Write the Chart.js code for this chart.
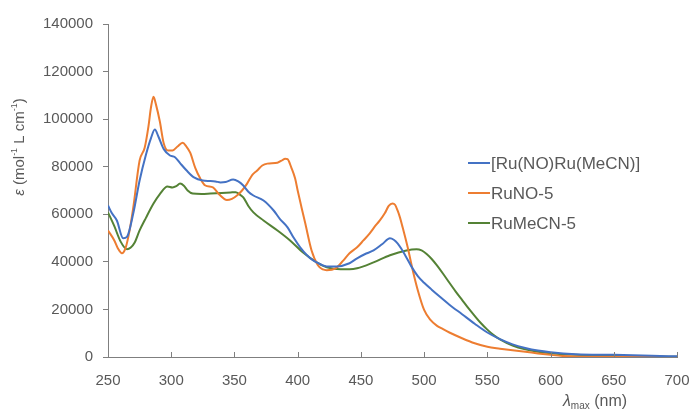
<!DOCTYPE html>
<html>
<head>
<meta charset="utf-8">
<script src="https://cdn.jsdelivr.net/npm/chart.js@4"></script>
<style>
  html, body { margin: 0; padding: 0; background: #ffffff; }
  canvas { display: block; }
</style>
</head>
<body>
<canvas id="c" width="691" height="410"></canvas>
<script>
// ---- data ----
const seriesNames = ["[Ru(NO)Ru(MeCN)]", "RuNO-5", "RuMeCN-5"];

const blueX = [250,253,257,262,265,270,275,280,284,287,290,294,299,303,307,312,318,325,331,335,339,343,349,353,357,361,365,373,381,386,392,397,402,407,412,418,423,431,441,447,453,460,467,473,476,479,482,485,490,495,500,506,513,520,530,540,550,560,570,580,590,600,620,650,680,700];
const blueY = [63700,60500,57400,49900,50500,60400,74200,85000,92000,95600,92500,87500,84700,84000,81500,78500,75500,74200,74000,73800,73400,73600,74600,73800,72100,69500,67900,65800,61600,58000,54500,50000,46100,43000,40700,39000,38100,38100,39400,41500,43200,44800,47500,49900,49300,47800,45500,42800,38000,34000,31200,28300,25100,22000,18000,14000,10300,7500,5300,3800,2700,2000,1200,900,500,300];

const orangeX = [250,255,258,261,264,267,270,275,279,282,284,286,288,291,294,297.5,301,305,309,312,315,319,323,327,333,338,344,348,352,356,360,364,368,372,376,384,388,390,392,395,398,400,403,406,411,416,420,423,430,436,441,447,452,457,462,465,469,472,475,477,479,481,483,487,491,495,500,505,510,515,520,530,540,550,560,570,580,590,600,610,630,700];
const orangeY = [53200,49000,45500,43600,46000,53000,62900,82600,88000,97000,105000,109400,106000,99000,90000,86800,86800,88500,90100,88500,85900,79500,75000,72100,71300,68300,66000,66500,67900,70000,72900,76500,78400,80500,81300,81700,82800,83400,83200,79600,75000,70000,63000,56200,44800,38600,36800,36500,37300,40500,43600,46100,49000,52000,55500,57400,60500,63500,64500,64000,61600,58500,54500,46100,36500,28100,19800,15600,13200,11700,10300,7900,5800,4300,3500,2800,2200,1500,900,400,100,0];

const greenX = [250,255,260,265,268,271,275,280,286,291,297,301,304,307,310,313,317,324,331,340,347,351,354,357,361,365,373,384,394,404,415,423,434,441,447,460,473,486,494,498,502,506,510,515,520,525,530,535,540,545,550,555,560,570,580,590,600,620,650,680,700];
const greenY = [60800,55000,48500,45300,46000,48000,53200,58500,64500,68500,71700,71300,71800,72900,72000,70000,68700,68500,68700,69000,69200,69300,68400,67100,63500,60800,57400,53200,49000,44000,39800,37700,36900,36900,37300,39800,42800,44800,45300,44800,43300,41200,38600,35000,31200,27500,24000,20500,17300,14200,11500,9200,7400,4800,3200,2200,1600,900,450,200,100];

const xTicks = [250,300,350,400,450,500,550,600,650,700];
const yTicks = [0,20000,40000,60000,80000,100000,120000,140000];
// --------------------------------------

const colors = ["#4472C4", "#ED7D31", "#548235"];
const FONT = "'Liberation Sans', Arial, sans-serif";
const TXT = "#595959";
const AXIS = "#7f7f7f";

function pts(xs, ys) { return xs.map((x, i) => ({ x: x, y: ys[i] })); }

const decorPlugin = {
  id: 'decor',
  afterDraw(chart) {
    const ctx = chart.ctx;
    const xs = chart.scales.x, ys = chart.scales.y;
    const bottom = ys.getPixelForValue(0);
    ctx.save();
    // inward x ticks
    ctx.strokeStyle = AXIS;
    ctx.lineWidth = 1;
    xTicks.forEach(v => {
      const px = Math.round(xs.getPixelForValue(v)) + 0.5;
      ctx.beginPath();
      ctx.moveTo(px, bottom);
      ctx.lineTo(px, bottom - 5);
      ctx.stroke();
    });
    // legend
    ctx.textBaseline = 'middle';
    ctx.textAlign = 'left';
    ctx.font = "17px " + FONT;
    const lx = 468, ly0 = 163, dy = 30;
    chart.data.datasets.forEach((ds, i) => {
      const y = ly0 + i * dy;
      ctx.strokeStyle = ds.borderColor;
      ctx.lineWidth = 2;
      ctx.beginPath();
      ctx.moveTo(lx, y);
      ctx.lineTo(lx + 22, y);
      ctx.stroke();
      ctx.fillStyle = TXT;
      ctx.fillText(ds.label, lx + 23, y + 1);
    });
    // y title (rotated)
    ctx.save();
    ctx.translate(20, 147);
    ctx.rotate(-Math.PI / 2);
    const partsY = [
      { t: "ε", f: "italic 15px " + FONT, dy: 0 },
      { t: " (mol", f: "15px " + FONT, dy: 0 },
      { t: "-1", f: "9px " + FONT, dy: -5 },
      { t: " L cm", f: "15px " + FONT, dy: 0 },
      { t: "-1", f: "9px " + FONT, dy: -5 },
      { t: ")", f: "15px " + FONT, dy: 0 }
    ];
    drawParts(ctx, partsY, 0, 0);
    ctx.restore();
    // x title
    const partsX = [
      { t: "λ", f: "italic 16px " + FONT, dy: 0 },
      { t: "max", f: "10px " + FONT, dy: 4 },
      { t: " (nm)", f: "16px " + FONT, dy: 0 }
    ];
    drawParts(ctx, partsX, 595, 402);
    ctx.restore();
  }
};

function drawParts(ctx, parts, cx, cy) {
  let total = 0;
  parts.forEach(p => { ctx.font = p.f; total += ctx.measureText(p.t).width; });
  let x = cx - total / 2;
  ctx.fillStyle = TXT;
  ctx.textAlign = 'left';
  ctx.textBaseline = 'middle';
  parts.forEach(p => {
    ctx.font = p.f;
    ctx.fillText(p.t, x, cy + p.dy);
    x += ctx.measureText(p.t).width;
  });
}

new Chart(document.getElementById('c'), {
  type: 'line',
  data: {
    datasets: [
      { label: seriesNames[0], data: pts(blueX, blueY), borderColor: colors[0] },
      { label: seriesNames[1], data: pts(orangeX, orangeY), borderColor: colors[1] },
      { label: seriesNames[2], data: pts(greenX, greenY), borderColor: colors[2] }
    ].map(d => Object.assign(d, {
      borderWidth: 2, pointRadius: 0, fill: false,
      cubicInterpolationMode: 'monotone', backgroundColor: d.borderColor
    }))
  },
  options: {
    responsive: false,
    animation: false,
    devicePixelRatio: 1,
    layout: { padding: { left: 0, top: 24, right: 14, bottom: 0 } },
    plugins: { legend: { display: false }, tooltip: { enabled: false } },
    scales: {
      x: {
        type: 'linear', min: 250, max: 700,
        afterBuildTicks(s) { s.ticks = xTicks.map(v => ({ value: v })); },
        afterFit(s) { s.height = 53; s.paddingLeft = 0; s.paddingRight = 0; },
        grid: { display: false, drawTicks: false },
        border: { display: true, color: AXIS, width: 1 },
        ticks: { color: TXT, font: { family: FONT, size: 15 }, padding: 15, maxRotation: 0,
                 callback: v => String(v) }
      },
      y: {
        min: 0, max: 140000,
        afterBuildTicks(s) { s.ticks = yTicks.map(v => ({ value: v })); },
        afterFit(s) { s.width = 108; s.paddingTop = 0; s.paddingBottom = 0; },
        grid: { display: true, drawOnChartArea: false, drawTicks: true, tickLength: 5, color: AXIS },
        border: { display: true, color: AXIS, width: 1 },
        ticks: { color: TXT, font: { family: FONT, size: 15 }, padding: 10,
                 callback: v => String(v) }
      }
    }
  },
  plugins: [decorPlugin]
});
</script>
</body>
</html>
